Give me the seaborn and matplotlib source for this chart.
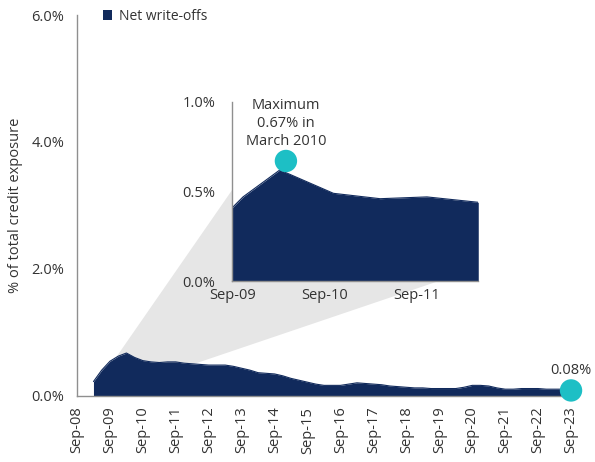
import numpy as np
import pandas as pd
import matplotlib
matplotlib.use("Agg")
import matplotlib.pyplot as plt
from matplotlib.patches import Patch, Polygon
import seaborn as sns

# Quarterly net write-offs, % of total credit exposure (Mar-09 .. Sep-23)
quarters = pd.date_range("2009-03-01", "2023-09-01", freq="QS-MAR")
net_writeoffs = [
    0.22, 0.40, 0.54, 0.62,   # 2009
    0.67, 0.60, 0.55, 0.53,   # 2010
    0.52, 0.53, 0.53, 0.51,   # 2011
    0.50, 0.49, 0.48, 0.48,   # 2012
    0.48, 0.46, 0.43, 0.40,   # 2013
    0.36, 0.35, 0.34, 0.31,   # 2014
    0.27, 0.24, 0.21, 0.18,   # 2015
    0.16, 0.16, 0.16, 0.18,   # 2016
    0.20, 0.19, 0.18, 0.17,   # 2017
    0.15, 0.14, 0.13, 0.12,   # 2018
    0.12, 0.11, 0.11, 0.11,   # 2019
    0.11, 0.13, 0.16, 0.16,   # 2020
    0.15, 0.12, 0.10, 0.10,   # 2021
    0.11, 0.11, 0.11, 0.10,   # 2022
    0.10, 0.10, 0.08,         # 2023
]
x_tick_labels = [f"Sep-{y:02d}" for y in range(8, 24)]
y_ticks = [0, 2, 4, 6]

# Detail series for the 2009-2012 close-up (months after Sep-09)
detail_months = [0, 1.4, 6.2, 13.2, 19.3, 25.4, 32.1]
detail_values = [0.41, 0.47, 0.62, 0.49, 0.46, 0.47, 0.44]
detail_tick_labels = ["Sep-09", "Sep-10", "Sep-11"]
detail_y_ticks = [0.0, 0.5, 1.0]

peak_month = 7.0      # March 2010 in the close-up
peak_value = 0.67
last_value = 0.08

NAVY = "#112a5c"
TEAL = "#1dbfc5"
WEDGE = "#e6e6e6"
SPINE = "#8f8f8f"
TEXT = "#333333"
FS = 10.5

sns.set_theme(style="white")
plt.rcParams["font.family"] = ["Open Sans", "DejaVu Sans"]

df = pd.DataFrame({
    "month": (quarters.year - 2008) * 12 + quarters.month - 9,
    "value": net_writeoffs,
})
detail = pd.DataFrame({"month": detail_months, "value": detail_values})

fig = plt.figure(figsize=(5.95, 4.62), dpi=100)
ax = fig.add_axes([0.1294, 0.1439, 0.8303, 0.8236])
ax.patch.set_visible(False)

# main area
ax.fill_between(df["month"], 0, df["value"], color=NAVY, lw=0, zorder=2)
sns.lineplot(data=df, x="month", y="value", ax=ax, color=NAVY, lw=0.8, zorder=2)
sns.scatterplot(x=[df["month"].iloc[-1]], y=[last_value], ax=ax, s=260,
                color=TEAL, edgecolor="none", zorder=5, clip_on=False)
ax.text(df["month"].iloc[-1], last_value + 0.2, f"{last_value:.2f}%",
        ha="center", va="bottom", fontsize=FS, color=TEXT)

ax.set_xlim(0, 180)
ax.set_ylim(0, 6)
ax.set_xticks(np.arange(0, 181, 12))
ax.set_xticklabels(x_tick_labels, rotation=90, fontsize=FS, color=TEXT)
ax.set_yticks(y_ticks)
ax.set_yticklabels([f"{v:.1f}%" for v in y_ticks], fontsize=FS, color=TEXT)
ax.set_xlabel("")
ax.set_ylabel("% of total credit exposure", fontsize=FS, color=TEXT)
ax.yaxis.set_label_coords(-0.11, 0.5)
for side in ("top", "right"):
    ax.spines[side].set_visible(False)
for side in ("left", "bottom"):
    ax.spines[side].set_color(SPINE)
    ax.spines[side].set_linewidth(1.0)
ax.tick_params(axis="y", direction="out", length=4, width=1, color=SPINE, pad=5)
ax.tick_params(axis="x", direction="out", length=5, width=1, color=SPINE, pad=3)

leg = ax.legend(handles=[Patch(facecolor=NAVY, edgecolor="none", label="Net write-offs")],
                loc="upper left", bbox_to_anchor=(0.052, 1.016), frameon=False,
                fontsize=10, handlelength=0.7, handleheight=0.7,
                handletextpad=0.45, borderpad=0, borderaxespad=0)
for t in leg.get_texts():
    t.set_color(TEXT)

# close-up axes
axi = fig.add_axes([0.3904, 0.3911, 0.4134, 0.3887])
axi.set_facecolor("white")
axi.fill_between(detail["month"], 0, detail["value"], color=NAVY, lw=0, zorder=2)
sns.lineplot(data=detail, x="month", y="value", ax=axi, color=NAVY, lw=0.8, zorder=2)
sns.scatterplot(x=[peak_month], y=[peak_value], ax=axi, s=260, color=TEAL,
                edgecolor="none", zorder=5, clip_on=False)
axi.text(peak_month, peak_value + 0.066, f"Maximum\n{peak_value:.2f}% in\nMarch 2010",
         ha="center", va="bottom", fontsize=FS, color=TEXT, linespacing=1.3)
axi.set_xlim(0, 32.1)
axi.set_ylim(0, 1.0)
axi.set_xticks([0, 12, 24])
axi.set_xticklabels(detail_tick_labels, fontsize=FS, color=TEXT)
axi.set_yticks(detail_y_ticks)
axi.set_yticklabels([f"{v:.1f}%" for v in detail_y_ticks], fontsize=FS, color=TEXT)
axi.set_xlabel("")
axi.set_ylabel("")
for side in ("top", "right"):
    axi.spines[side].set_visible(False)
for side in ("left", "bottom"):
    axi.spines[side].set_color(SPINE)
    axi.spines[side].set_linewidth(1.0)
axi.tick_params(axis="y", direction="out", length=6, width=1, color=SPINE, pad=6)
axi.tick_params(axis="x", direction="out", length=5, width=1, color=SPINE, pad=0)

# grey wedge linking the 2009-2012 stretch to the close-up
to_main = ax.transData.inverted()
corners = [
    ax.transData.transform((13.1, 0.53)),
    ax.transData.transform((39.4, 0.45)),
    axi.transAxes.transform((1.0, 0.076)),
    axi.transAxes.transform((0.0, 0.51)),
]
wedge = Polygon(to_main.transform(np.array(corners)), closed=True,
                facecolor=WEDGE, edgecolor="none", zorder=1)
ax.add_patch(wedge)

fig.savefig("out.png", dpi=100)
